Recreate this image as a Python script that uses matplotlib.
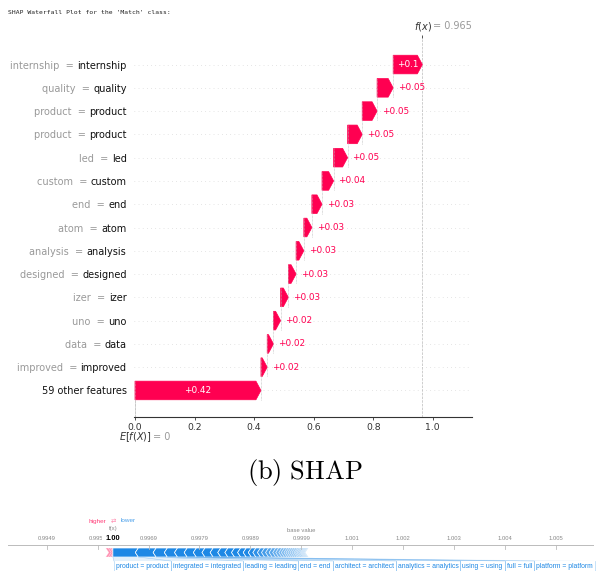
import re
import numpy as np
import matplotlib
matplotlib.use('Agg')
import matplotlib.pyplot as plt
from matplotlib.patches import Polygon

# waterfall: SHAP values for the 'Match' class, top row first
feature_values = ['internship', 'quality', 'product', 'product', 'led', 'custom', 'end',
                  'atom', 'analysis', 'designed', 'izer', 'uno', 'data', 'improved']
feature_names = ['internship', 'quality', 'product', 'product', 'led', 'custom', 'end',
                 'atom', 'analysis', 'designed', 'izer', 'uno', 'data', 'improved']
shap_values = [0.098, 0.054, 0.050, 0.049, 0.047, 0.039, 0.034,
               0.027, 0.026, 0.026, 0.026, 0.024, 0.021, 0.021]
rest_label = '59 other features'
rest_value = 0.423
base_value = 0.0
x_ticks = [0.0, 0.2, 0.4, 0.6, 0.8, 1.0]

# force plot of the same prediction (contributions in units of 1e-4)
force_base = 0.9999
force_pos = [0.5, 0.4, 0.3, 0.2]
force_neg_names = ['product', 'integrated', 'leading', 'end', 'architect',
                   'analytics', 'using', 'full', 'platform']
force_neg = [5.0, 3.5, 2.2, 2.0, 1.9, 1.8, 1.7, 1.6, 1.5,
             1.4, 1.3, 1.2, 1.1, 1.0, 0.9, 0.9, 0.8, 0.8, 0.7, 0.7, 0.6, 0.6, 0.5, 0.5,
             0.4, 0.4, 0.4, 0.4, 0.4, 0.3, 0.3, 0.3, 0.3, 0.2, 0.2, 0.2, 0.2, 0.1, 0.1]
force_ticks = [0.9949, 0.9959, 0.9969, 0.9979, 0.9989, 0.9999,
               1.0009, 1.0019, 1.0029, 1.0039, 1.0049]

RED = '#ff0051'
F_RED = '#ff0d57'
F_BLUE = '#1e88e5'
W, H = 603, 571


def format_value(v, fmt):
    s = fmt % v
    s = re.sub(r'\.?0+$', '', s)
    if s[0] == '-':
        s = '\u2212' + s[1:]
    return s


def px_box(x0, y0, x1, y1):
    return [x0 / W, 1 - y1 / H, (x1 - x0) / W, (y1 - y0) / H]


fig = plt.figure(figsize=(W / 100, H / 100), dpi=100)
renderer = fig.canvas.get_renderer()

fig.text(8 / W, 1 - 12 / H, "SHAP Waterfall Plot for the 'Match' class:",
         family='DejaVu Sans Mono', fontsize=4.6, va='center', color='#222222')

# ---------------- waterfall ----------------
ax = fig.add_axes(px_box(133.5, 38, 471.5, 417))
n = len(shap_values) + 1
fx = base_value + rest_value + sum(shap_values)
ax.set_xlim(-0.005, 1.13)
ax.set_ylim(-1.14, n + 0.14)

bbox_in = ax.get_window_extent().transformed(fig.dpi_scale_trans.inverted())
xscale = (ax.get_xlim()[1] - ax.get_xlim()[0]) / bbox_in.width
hl = 0.05 * xscale

for r in range(n):
    ax.axhline(r, color='#cccccc', lw=0.5, dashes=(1, 5), zorder=-1)

rows = list(range(n - 1, 0, -1)) + [0]
vals = shap_values + [rest_value]
loc = fx
for r, v in zip(rows, vals):
    loc -= v
    arr = ax.arrow(loc, r, max(v - hl, 1e-6), 0, head_length=min(v, hl),
                   width=0.8, head_width=0.8, color=RED, lw=0.5)
    ax.plot([loc, loc], [r - 1.4, r + 0.4], color='#bbbbbb', lw=0.5, dashes=(1, 1))
    txt = ax.text(loc + 0.5 * v, r, format_value(v, '%+0.02f'), ha='center', va='center',
                  color='white', fontsize=6.4)
    if txt.get_window_extent(renderer).width > arr.get_window_extent(renderer).width:
        txt.remove()
        ax.text(loc + v + (3.5 / 72) * xscale, r, format_value(v, '%+0.02f'),
                ha='left', va='center', color=RED, fontsize=6.4)

ax.axvline(base_value, 0, 1 / n, color='#bbbbbb', ls='--', lw=0.5, zorder=-1)
ax.axvline(fx, 0, 1, color='#bbbbbb', ls='--', lw=0.5, zorder=-1)

# feature names in black, "value =" in gray just left of them
ypad = 5
ax.set_yticks(rows, feature_names + [rest_label], fontsize=7.0, color='#111111')
ax.tick_params(axis='y', length=0, pad=ypad)
fig.canvas.draw()
for r, fv, lab in zip(rows[:-1], feature_values, ax.get_yticklabels()[:-1]):
    w_pt = lab.get_window_extent(renderer).width * 72 / fig.dpi
    ax.annotate(f'{fv}  =', xy=(0, r), xycoords=('axes fraction', 'data'),
                xytext=(-(ypad + w_pt + 2.4), 0), textcoords='offset points',
                ha='right', va='center_baseline', fontsize=7.0, color='#999999')

ax.set_xticks(x_ticks, [f'{t:.1f}' for t in x_ticks])
ax.tick_params(axis='x', labelsize=6.7, length=2.5, width=0.6, pad=1.5,
               color='#333333', labelcolor='#333333')
for side in ['top', 'right', 'left']:
    ax.spines[side].set_visible(False)
ax.spines['bottom'].set_linewidth(0.8)
ax.spines['bottom'].set_color('#333333')

# f(x) tick on top
ax_top = ax.twiny()
ax_top.set_xlim(ax.get_xlim())
ax_top.set_xticks([fx], [''])
ax_top.tick_params(axis='x', length=2.5, width=0.6, color='#333333')
for side in ['top', 'right', 'left', 'bottom']:
    ax_top.spines[side].set_visible(False)

ax.annotate('$f(x)$', xy=(fx, 1), xycoords=('data', 'axes fraction'), xytext=(-5.8, 8.6),
            textcoords='offset points', ha='left', va='center', fontsize=7, color='#333333')
ax.annotate('= ' + format_value(fx, '%0.03f'), xy=(fx, 1), xycoords=('data', 'axes fraction'),
            xytext=(7.6, 8.6), textcoords='offset points', ha='left', va='center',
            fontsize=7, color='#999999')
ax.annotate('$E[f(X)]$', xy=(base_value, 0), xycoords=('data', 'axes fraction'),
            xytext=(-11.5, -14.4), textcoords='offset points', ha='left', va='center',
            fontsize=7, color='#333333')
ax.annotate('= ' + format_value(base_value, '%0.03f'), xy=(base_value, 0),
            xycoords=('data', 'axes fraction'), xytext=(13.2, -14.4),
            textcoords='offset points', ha='left', va='center', fontsize=7, color='#999999')

fig.text(305 / W, 1 - 472 / H, r'$\mathrm{(b)\ SHAP}$', math_fontfamily='cm',
         fontsize=19, ha='center', va='center')

# ---------------- force plot ----------------
axf = fig.add_axes(px_box(0, 500, W, H))
ppu = 50900.0  # pixels per output unit
v0 = force_ticks[0] - 46.7 / ppu
axf.set_xlim(v0, v0 + W / ppu)
axf.set_ylim(H, 500)
axf.axis('off')

pos = [p * 1e-4 for p in force_pos]
neg = [q * 1e-4 for q in force_neg]
fx_f = force_base + sum(pos) - sum(neg)
px = 1 / ppu
fnt = 'Liberation Sans'

axf.plot([v0 + 8 * px, v0 + 593 * px], [545, 545], color='#bbbbbb', lw=0.7, zorder=4)
for t in force_ticks:
    axf.plot([t, t], [545, 549], color='#bbbbbb', lw=0.6, zorder=4)
    axf.text(t, 538, '%.4g' % t, ha='center', va='center', fontsize=4.2,
             color='#888888', family=fnt, zorder=2)
axf.text(fx_f, 538, '%.2f' % fx_f, ha='center', va='center', fontsize=5.4,
         fontweight='bold', family=fnt, zorder=3,
         bbox=dict(boxstyle='square,pad=0.45', fc='white', ec='none'))
axf.text(fx_f, 528.5, 'f(x)', ha='center', va='center', fontsize=4.2,
         color='#888888', family=fnt)
axf.text(force_base, 530, 'base value', ha='center', va='center', fontsize=4.2,
         color='#888888', family=fnt)
axf.text(fx_f - 7 * px, 521, 'higher', ha='right', va='center', fontsize=4.6,
         color=F_RED, family=fnt, alpha=0.8)
axf.text(fx_f, 521, '\u21c4', ha='center', va='center', fontsize=4.6,
         color=F_RED, alpha=0.5)
axf.text(fx_f + 8 * px, 521, 'lower', ha='left', va='center', fontsize=4.6,
         color=F_BLUE, family=fnt, alpha=0.8)

top, bot, mid = 548, 557, 552.5
c = 3 * px

# pushes higher: pink segments ending at f(x)
x = fx_f - sum(pos)
for k, p in enumerate(pos):
    x1 = x + p
    tip = 0 if k == len(pos) - 1 else c
    axf.add_patch(Polygon([(x, top), (x1, top), (x1 + tip, mid), (x1, bot), (x, bot), (x + c, mid)],
                          fc=F_RED, ec='white', lw=0.4, alpha=0.45))
    x = x1

# pushes lower: blue segments from f(x), fading towards the tail
total = sum(neg)
x = fx_f
seg = []
for k, q in enumerate(neg):
    x1 = x + q
    frac = (x - fx_f) / total
    alpha = 1.0 if frac < 0.7 else 1.0 - (frac - 0.7) / 0.3 * 0.7
    tip = 0 if k == 0 else c
    axf.add_patch(Polygon([(x, top), (x1, top), (x1 - c, mid), (x1, bot), (x, bot), (x - tip, mid)],
                          fc=F_BLUE, ec='white', lw=0.5, alpha=alpha))
    seg.append((x, x1))
    x = x1

# feature labels under the bar
cursor = fx_f + 1 * px
for name, (s0, s1) in zip(force_neg_names, seg):
    t = axf.text(cursor + 2 * px, 567, f'{name} = {name}', ha='left', va='center',
                 fontsize=4.9, color=F_BLUE, family=fnt)
    w = t.get_window_extent(renderer).width
    l0, l1 = cursor, cursor + (w + 4) * px
    axf.add_patch(Polygon([(s0, bot), (s1, bot), (l1, 561), (l0, 561)],
                          fc=F_BLUE, ec='none', alpha=0.12))
    axf.plot([s0, l0], [bot, 561], color=F_BLUE, lw=0.4, alpha=0.35)
    axf.plot([l0, l0], [561, H], color=F_BLUE, lw=0.5, alpha=0.35)
    axf.plot([l1, l1], [561, H], color=F_BLUE, lw=0.5, alpha=0.35)
    cursor = l1

fig.savefig('out.png', dpi=100)
